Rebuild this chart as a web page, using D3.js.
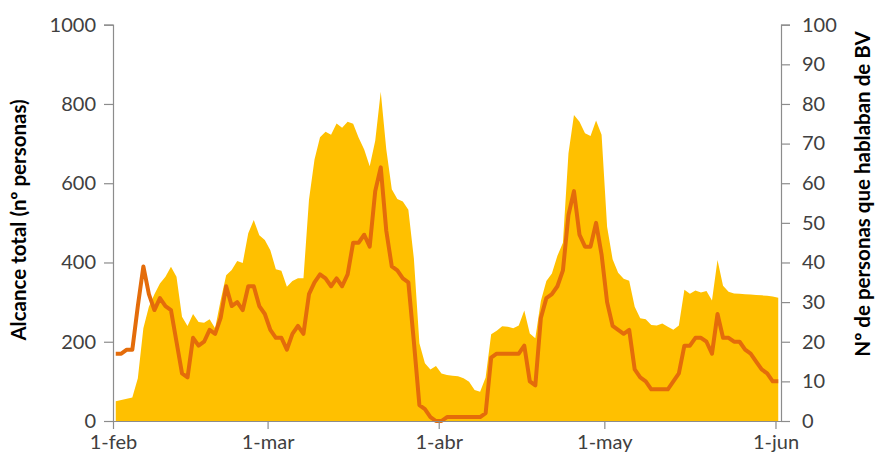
<!DOCTYPE html>
<html>
<head>
<meta charset="utf-8">
<script src="https://cdn.jsdelivr.net/npm/d3@7"></script>
<style>
  html, body { margin: 0; padding: 0; background: #fff; }
  svg { display: block; font-family: Lato, "Noto Sans", sans-serif; }
  .axis-title { font-size: 20.5px; font-weight: bold; fill: #000; }
</style>
</head>
<body>
<svg id="chart" width="875" height="460"></svg>
<script>
// Daily values, 1-feb .. 1-jun
const startDay = new Date(Date.UTC(2015, 1, 1));

const alcance = [
  50, 53, 56, 59, 108, 234, 288, 320, 347, 364,
  389, 364, 263, 240, 270, 250, 248, 257, 234, 305,
  368, 381, 404, 399, 474, 507, 469, 457, 431, 383,
  379, 339, 353, 360, 360, 558, 660, 716, 730, 722,
  751, 740, 755, 750, 715, 685, 643, 707, 831, 686,
  585, 560, 554, 533, 410, 196, 146, 130, 139, 120,
  116, 114, 113, 108, 99, 78, 74, 110, 219, 228,
  239, 238, 234, 241, 279, 221, 209, 303, 353, 372,
  417, 450, 675, 772, 755, 726, 719, 758, 722, 490,
  408, 374, 359, 354, 288, 259, 257, 242, 241, 246,
  238, 230, 241, 331, 321, 329, 324, 328, 304, 406,
  341, 326, 322, 321, 320, 319, 318, 317, 316, 314,
  311
];

const personas = [
  17, 17, 18, 18, 29, 39, 32, 28, 31, 29,
  28, 20, 12, 11, 21, 19, 20, 23, 22, 26,
  34, 29, 30, 28, 34, 34, 29, 27, 23, 21,
  21, 18, 22, 24, 22, 32, 35, 37, 36, 34,
  36, 34, 37, 45, 45, 47, 44, 58, 64, 48,
  39, 38, 36, 35, 20, 4, 3, 1, 0, 0,
  1, 1, 1, 1, 1, 1, 1, 2, 16, 17,
  17, 17, 17, 17, 19, 10, 9, 26, 31, 32,
  34, 38, 52, 58, 47, 44, 44, 50, 42, 30,
  24, 23, 22, 23, 13, 11, 10, 8, 8, 8,
  8, 10, 12, 19, 19, 21, 21, 20, 17, 27,
  21, 21, 20, 20, 18, 17, 15, 13, 12, 10,
  10
];

const monthTicks = [
  new Date(Date.UTC(2015, 1, 1)),
  new Date(Date.UTC(2015, 2, 1)),
  new Date(Date.UTC(2015, 3, 1)),
  new Date(Date.UTC(2015, 4, 1)),
  new Date(Date.UTC(2015, 5, 1))
];
const monthLabels = ['1-feb', '1-mar', '1-abr', '1-may', '1-jun'];

const leftTicks = [0, 200, 400, 600, 800, 1000];
const rightTicks = [0, 10, 20, 30, 40, 50, 60, 70, 80, 90, 100];

const DAY = 86400000;
const rows = alcance.map((v, i) => ({
  date: new Date(startDay.getTime() + i * DAY + DAY / 2),
  alcance: v,
  personas: personas[i]
}));

const svg = d3.select('#chart');
const plot = { left: 113, right: 781, top: 24.7, bottom: 421 };

const x = d3.scaleUtc()
  .domain([startDay, new Date(startDay.getTime() + alcance.length * DAY)])
  .range([plot.left, plot.right]);
const yL = d3.scaleLinear().domain([0, 1000]).range([plot.bottom, plot.top]);
const yR = d3.scaleLinear().domain([0, 100]).range([plot.bottom, plot.top]);

// area (left scale)
svg.append('path')
  .datum(rows)
  .attr('fill', '#FFC000')
  .attr('d', d3.area().x((d) => x(d.date)).y0(yL(0)).y1((d) => yL(d.alcance)));

// line (right scale)
svg.append('path')
  .datum(rows)
  .attr('fill', 'none')
  .attr('stroke', '#E46C0A')
  .attr('stroke-width', 4)
  .attr('stroke-linejoin', 'round')
  .attr('d', d3.line().x((d) => x(d.date)).y((d) => yR(d.personas)));

// axes
const axisColor = '#8c8c8c';
function styleAxis(g) {
  g.select('.domain').attr('stroke', axisColor).attr('stroke-width', 1.2);
  g.selectAll('.tick line').attr('stroke', axisColor).attr('stroke-width', 1.2);
  g.selectAll('.tick text').attr('fill', '#404040');
}

svg.append('g')
  .attr('transform', `translate(${plot.left},0)`)
  .call(d3.axisLeft(yL).tickValues(leftTicks).tickFormat(d3.format('d'))
    .tickSize(9).tickSizeOuter(9).tickPadding(8))
  .call(styleAxis);

svg.append('g')
  .attr('transform', `translate(${plot.right},0)`)
  .call(d3.axisRight(yR).tickValues(rightTicks).tickSize(9).tickSizeOuter(9).tickPadding(12))
  .call(styleAxis);

svg.append('g')
  .attr('transform', `translate(0,${plot.bottom})`)
  .call(d3.axisBottom(x).tickValues(monthTicks).tickFormat((d, i) => monthLabels[i])
    .tickSize(8).tickSizeOuter(0).tickPadding(6))
  .call(styleAxis);

svg.selectAll('.tick text')
  .style('font-family', 'Lato, "Noto Sans", sans-serif')
  .style('font-size', '20px');

// axis titles
svg.append('text')
  .attr('class', 'axis-title')
  .attr('transform', 'translate(26,220) rotate(-90)')
  .attr('text-anchor', 'middle')
  .text('Alcance total (nº personas)');

svg.append('text')
  .attr('class', 'axis-title')
  .attr('transform', 'translate(870,194) rotate(-90)')
  .attr('text-anchor', 'middle')
  .text('Nº de personas que hablaban de BV');
</script>
</body>
</html>
